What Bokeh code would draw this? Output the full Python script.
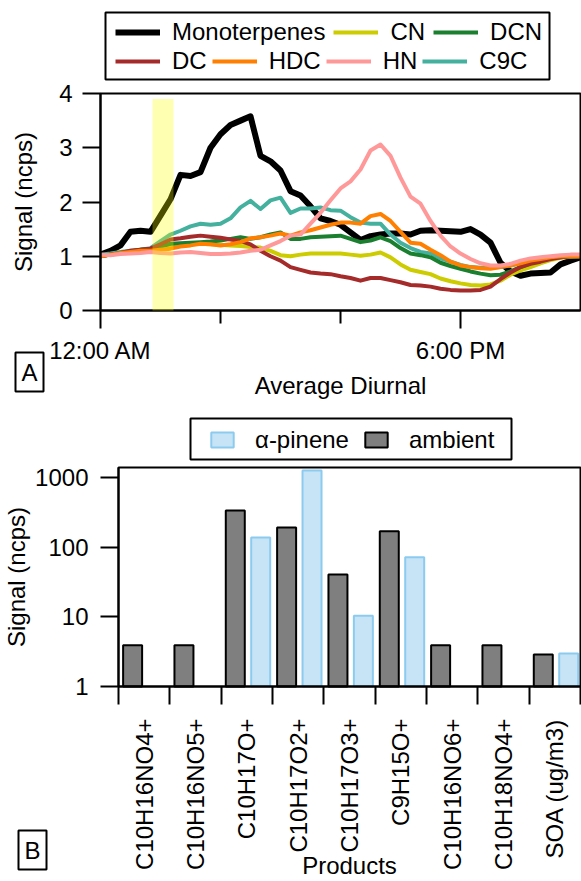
from math import pi
from bokeh.plotting import figure
from bokeh.models import (Range1d, FixedTicker, Legend, LegendItem, BoxAnnotation,
                          Label, ColumnDataSource)
from bokeh.layouts import column
from bokeh.transform import dodge
from bokeh.embed import file_html
from bokeh.resources import INLINE

FONT = "Liberation Sans"
FS = "24px"

# ---------------- Panel A data ----------------
hours = [0, 0.5, 1, 1.5, 2, 2.5, 3, 3.5, 4, 4.5, 5, 5.5, 6, 6.5, 7, 7.5, 8, 8.5,
         9, 9.5, 10, 10.5, 11, 11.5, 12, 12.5, 13, 13.5, 14, 14.5, 15, 15.5, 16,
         16.5, 17, 17.5, 18, 18.5, 19, 19.5, 20, 20.5, 21, 21.5, 22, 22.5, 23,
         23.5, 24]

monoterpenes = [1.03, 1.10, 1.20, 1.45, 1.47, 1.45, 1.75, 2.05, 2.50, 2.48, 2.55,
                3.00, 3.25, 3.42, 3.50, 3.58, 2.85, 2.75, 2.58, 2.20, 2.12, 1.92,
                1.70, 1.65, 1.58, 1.44, 1.30, 1.37, 1.40, 1.42, 1.42, 1.40, 1.47,
                1.48, 1.47, 1.46, 1.45, 1.50, 1.40, 1.25, 0.88, 0.72, 0.64, 0.68,
                0.69, 0.70, 0.85, 0.92, 0.98]
cn = [1.00, 1.03, 1.06, 1.08, 1.10, 1.10, 1.15, 1.20, 1.22, 1.23, 1.23, 1.22, 1.21,
      1.20, 1.19, 1.17, 1.16, 1.10, 1.02, 1.00, 1.03, 1.05, 1.05, 1.05, 1.05, 1.03,
      1.01, 1.03, 1.07, 0.98, 0.85, 0.75, 0.71, 0.67, 0.59, 0.54, 0.50, 0.47, 0.46,
      0.48, 0.55, 0.66, 0.74, 0.80, 0.87, 0.93, 0.97, 0.99, 1.00]
dcn = [1.00, 1.03, 1.06, 1.09, 1.12, 1.14, 1.18, 1.23, 1.24, 1.25, 1.26, 1.27, 1.29,
       1.32, 1.35, 1.32, 1.35, 1.40, 1.44, 1.32, 1.32, 1.35, 1.36, 1.37, 1.38, 1.32,
       1.26, 1.29, 1.35, 1.28, 1.15, 1.05, 1.02, 0.98, 0.88, 0.82, 0.77, 0.72, 0.68,
       0.65, 0.66, 0.72, 0.80, 0.87, 0.92, 0.96, 0.98, 1.00, 1.00]
dc = [1.00, 1.03, 1.06, 1.10, 1.12, 1.14, 1.22, 1.31, 1.33, 1.36, 1.38, 1.36, 1.34,
      1.31, 1.28, 1.22, 1.10, 1.00, 0.92, 0.80, 0.75, 0.70, 0.68, 0.67, 0.63, 0.60,
      0.55, 0.60, 0.60, 0.56, 0.52, 0.47, 0.46, 0.44, 0.40, 0.38, 0.37, 0.37, 0.38,
      0.44, 0.58, 0.70, 0.80, 0.86, 0.90, 0.95, 0.98, 1.00, 1.00]
hdc = [1.00, 1.03, 1.06, 1.08, 1.10, 1.10, 1.12, 1.14, 1.18, 1.20, 1.23, 1.22, 1.20,
       1.22, 1.26, 1.33, 1.35, 1.38, 1.42, 1.38, 1.44, 1.48, 1.53, 1.58, 1.62, 1.62,
       1.60, 1.74, 1.78, 1.65, 1.45, 1.25, 1.23, 1.12, 1.02, 0.90, 0.83, 0.80, 0.78,
       0.77, 0.80, 0.83, 0.87, 0.92, 0.95, 0.98, 1.00, 1.00, 1.00]
hn = [1.03, 1.02, 1.04, 1.05, 1.06, 1.08, 1.06, 1.05, 1.07, 1.08, 1.06, 1.04, 1.04,
      1.05, 1.07, 1.10, 1.12, 1.20, 1.28, 1.38, 1.40, 1.60, 1.80, 2.03, 2.25, 2.38,
      2.60, 2.95, 3.06, 2.85, 2.45, 2.10, 1.97, 1.65, 1.38, 1.18, 1.05, 0.95, 0.87,
      0.83, 0.83, 0.86, 0.92, 0.96, 0.98, 1.00, 1.02, 1.03, 1.03]
c9c = [1.03, 1.05, 1.08, 1.10, 1.12, 1.15, 1.28, 1.40, 1.47, 1.55, 1.60, 1.58, 1.60,
       1.70, 1.90, 2.02, 1.87, 2.03, 2.08, 1.80, 1.88, 1.88, 1.90, 1.85, 1.84, 1.72,
       1.62, 1.60, 1.60, 1.40, 1.25, 1.15, 1.08, 1.05, 0.96, 0.90, 0.84, 0.80, 0.79,
       0.79, 0.80, 0.83, 0.88, 0.93, 0.96, 0.98, 1.00, 1.00, 1.00]

series_names = ["Monoterpenes", "CN", "DCN", "DC", "HDC", "HN", "C9C"]
series_values = [monoterpenes, cn, dcn, dc, hdc, hn, c9c]
series_colors = ["#000000", "#cccc00", "#1a7f2f", "#a52a2a", "#ff7f00", "#ff9999", "#44b09e"]
series_widths = [6, 4, 4, 4, 4, 4, 4]

x_tick_hours = [0, 18]
x_tick_labels = ["12:00 AM", "6:00 PM"]
x_minor_hours = [6, 12]
y_ticks_a = [0, 1, 2, 3, 4]
x_span_a = (0, 24)
y_span_a = (0, 4)
band_start, band_end, band_top = 2.6, 3.65, 3.9

# ---------------- Panel B data ----------------
products = ["C10H16NO4+", "C10H16NO5+", "C10H17O+", "C10H17O2+", "C10H17O3+",
            "C9H15O+", "C10H16NO6+", "C10H18NO4+", "SOA (ug/m3)"]
ambient = [3.9, 3.9, 335, 191, 40.5, 169, 3.9, 3.9, 2.88]
alpha_pinene = [None, None, 138, 1255, 10.4, 71.6, None, None, 2.97]
y_ticks_b = [1, 10, 100, 1000]
y_span_b = (1, 1390)


def style_axis(ax):
    ax.axis_line_width = 2
    ax.axis_line_color = "black"
    ax.major_tick_line_width = 2
    ax.minor_tick_line_width = 2
    ax.major_tick_line_color = "black"
    ax.minor_tick_line_color = "black"
    ax.major_tick_in = 0
    ax.minor_tick_in = 0
    ax.major_label_text_font = FONT
    ax.major_label_text_font_size = FS
    ax.major_label_text_color = "black"
    ax.axis_label_text_font = FONT
    ax.axis_label_text_font_size = FS
    ax.axis_label_text_font_style = "normal"
    ax.axis_label_text_color = "black"


def frame_box(left, right, bottom, top, screen=False):
    kw = dict(left=left, right=right, bottom=bottom, top=top,
              fill_alpha=0, line_color="black", line_alpha=1.0, line_width=2)
    if screen:
        kw.update(left_units="screen", right_units="screen",
                  bottom_units="screen", top_units="screen")
    return BoxAnnotation(**kw)


def panel_label(text, x, y):
    return Label(x=x, y=y, x_units="screen", y_units="screen", text=text,
                 text_align="center", text_baseline="middle", text_color="black",
                 text_font=FONT, text_font_size=FS, padding=6,
                 border_line_color="black", border_line_alpha=1.0,
                 border_line_width=2)


# ================= Panel A =================
# the frame covers the whole canvas; the axes sit at fixed data locations
W_A, H_A = 581, 410
px_per_h = 20.0
px_per_unit = 54.25
p1 = figure(width=W_A, height=H_A, output_backend="svg", toolbar_location=None,
            x_range=Range1d(-100 / px_per_h, (W_A - 100) / px_per_h),
            y_range=Range1d(-(H_A - 310) / px_per_unit, 310 / px_per_unit),
            min_border=0, min_border_left=0, min_border_right=0,
            min_border_top=0, min_border_bottom=0)
p1.grid.visible = False
p1.outline_line_color = None

renderers = {}
order = [0, 6, 1, 2, 3, 4, 5]
for i in order:
    r = p1.line(hours, series_values[i], line_color=series_colors[i],
                line_width=series_widths[i], line_join="round")
    renderers[series_names[i]] = r

p1.add_layout(BoxAnnotation(left=band_start, right=band_end, bottom=0, top=band_top,
                            fill_color="#ffff00", fill_alpha=0.3, line_alpha=0,
                            level="overlay"))
p1.add_layout(frame_box(x_span_a[0], x_span_a[1], y_span_a[0], y_span_a[1]))

xa = p1.xaxis[0]
style_axis(xa)
xa.fixed_location = 0
xa.bounds = x_span_a
xa.ticker = FixedTicker(ticks=x_tick_hours, minor_ticks=x_minor_hours)
xa.major_label_overrides = {h: lab for h, lab in zip(x_tick_hours, x_tick_labels)}
xa.major_tick_out = 18
xa.minor_tick_out = 13
xa.major_label_standoff = 8
xa.axis_label = "Average Diurnal"
xa.axis_label_standoff = 5

ya = p1.yaxis[0]
style_axis(ya)
ya.fixed_location = 0
ya.bounds = y_span_a
ya.ticker = FixedTicker(ticks=y_ticks_a, minor_ticks=[])
ya.major_tick_out = 18
ya.major_label_standoff = 10
ya.axis_label = "Signal (ncps)"
ya.axis_label_standoff = 19


def make_legend(names, loc, spacing):
    items = [LegendItem(label=n, renderers=[renderers[n]]) for n in names]
    return Legend(items=items, orientation="horizontal", location=loc,
                  border_line_color=None, background_fill_alpha=0,
                  padding=0, margin=0, spacing=spacing, glyph_width=45,
                  glyph_height=28, label_height=28, label_standoff=12,
                  label_text_font=FONT, label_text_font_size=FS,
                  label_text_color="black")


p1.add_layout(make_legend(series_names[:3], (115, H_A - 46), 8))
p1.add_layout(make_legend(series_names[3:], (115, H_A - 75), 5))
p1.add_layout(frame_box(105, 549, H_A - 79, H_A - 12, screen=True))
p1.add_layout(panel_label("A", 29, H_A - 371.5))

# ================= Panel B =================
W_B, H_B = 581, 471
px_per_cat = 462 / len(products)
px_per_dec = 69.67
y0_local = 276  # pixel row of value 1 inside panel B
p2 = figure(width=W_B, height=H_B, output_backend="svg", toolbar_location=None,
            x_range=Range1d(-118 / px_per_cat, len(products) + 1 / px_per_cat),
            y_range=Range1d(10 ** (-(H_B - y0_local) / px_per_dec),
                            10 ** (y0_local / px_per_dec)),
            y_axis_type="log",
            min_border=0, min_border_left=0, min_border_right=0,
            min_border_top=0, min_border_bottom=0)
p2.grid.visible = False
p2.outline_line_color = None

idx = list(range(len(products)))
src_amb = ColumnDataSource(dict(idx=idx, val=ambient))
a_idx = [i for i, v in zip(idx, alpha_pinene) if v is not None]
a_val = [v for v in alpha_pinene if v is not None]
src_alp = ColumnDataSource(dict(idx=a_idx, val=a_val))

r_amb = p2.vbar(x=dodge("idx", 0.275), width=0.37, bottom=1, top="val", source=src_amb,
                fill_color="#7f7f7f", line_color="black", line_width=2)
r_alp = p2.vbar(x=dodge("idx", 0.77), width=0.37, bottom=1, top="val", source=src_alp,
                fill_color="#c6e4f5", line_color="#8ccbef", line_width=2)

p2.add_layout(frame_box(0, len(products), y_span_b[0], y_span_b[1]))

xb = p2.xaxis[0]
style_axis(xb)
xb.fixed_location = 1
xb.bounds = (0, len(products))
xb.ticker = FixedTicker(ticks=[i + 0.5 for i in idx], minor_ticks=idx + [len(products)])
xb.major_label_overrides = {i + 0.5: lab for i, lab in zip(idx, products)}
xb.major_tick_out = 0
xb.minor_tick_out = 18
xb.major_label_orientation = pi / 2
xb.major_label_standoff = 14
xb.axis_label = "Products"
xb.axis_label_standoff = -21

yb = p2.yaxis[0]
style_axis(yb)
yb.fixed_location = 0
yb.bounds = y_span_b
yb.ticker = FixedTicker(ticks=y_ticks_b, minor_ticks=[])
yb.major_label_overrides = {t: str(t) for t in y_ticks_b}
yb.major_tick_out = 18
yb.major_label_standoff = 12
yb.axis_label = "Signal (ncps)"
yb.axis_label_standoff = 2

leg_b = Legend(items=[LegendItem(label="\u03b1-pinene", renderers=[r_alp]),
                      LegendItem(label="ambient", renderers=[r_amb])],
               orientation="horizontal", location=(208, H_B - 43.5),
               border_line_color=None, background_fill_alpha=0,
               padding=0, margin=0, spacing=13, glyph_width=28, glyph_height=19,
               label_height=28, label_standoff=19,
               label_text_font=FONT, label_text_font_size=FS,
               label_text_color="black")
p2.add_layout(leg_b)
p2.add_layout(frame_box(190, 511, H_B - 49, H_B - 8, screen=True))
p2.add_layout(panel_label("B", 32, H_B - 439.5))

layout = column(p1, p2, spacing=0)
open("out.html", "w").write(file_html(layout, INLINE))
